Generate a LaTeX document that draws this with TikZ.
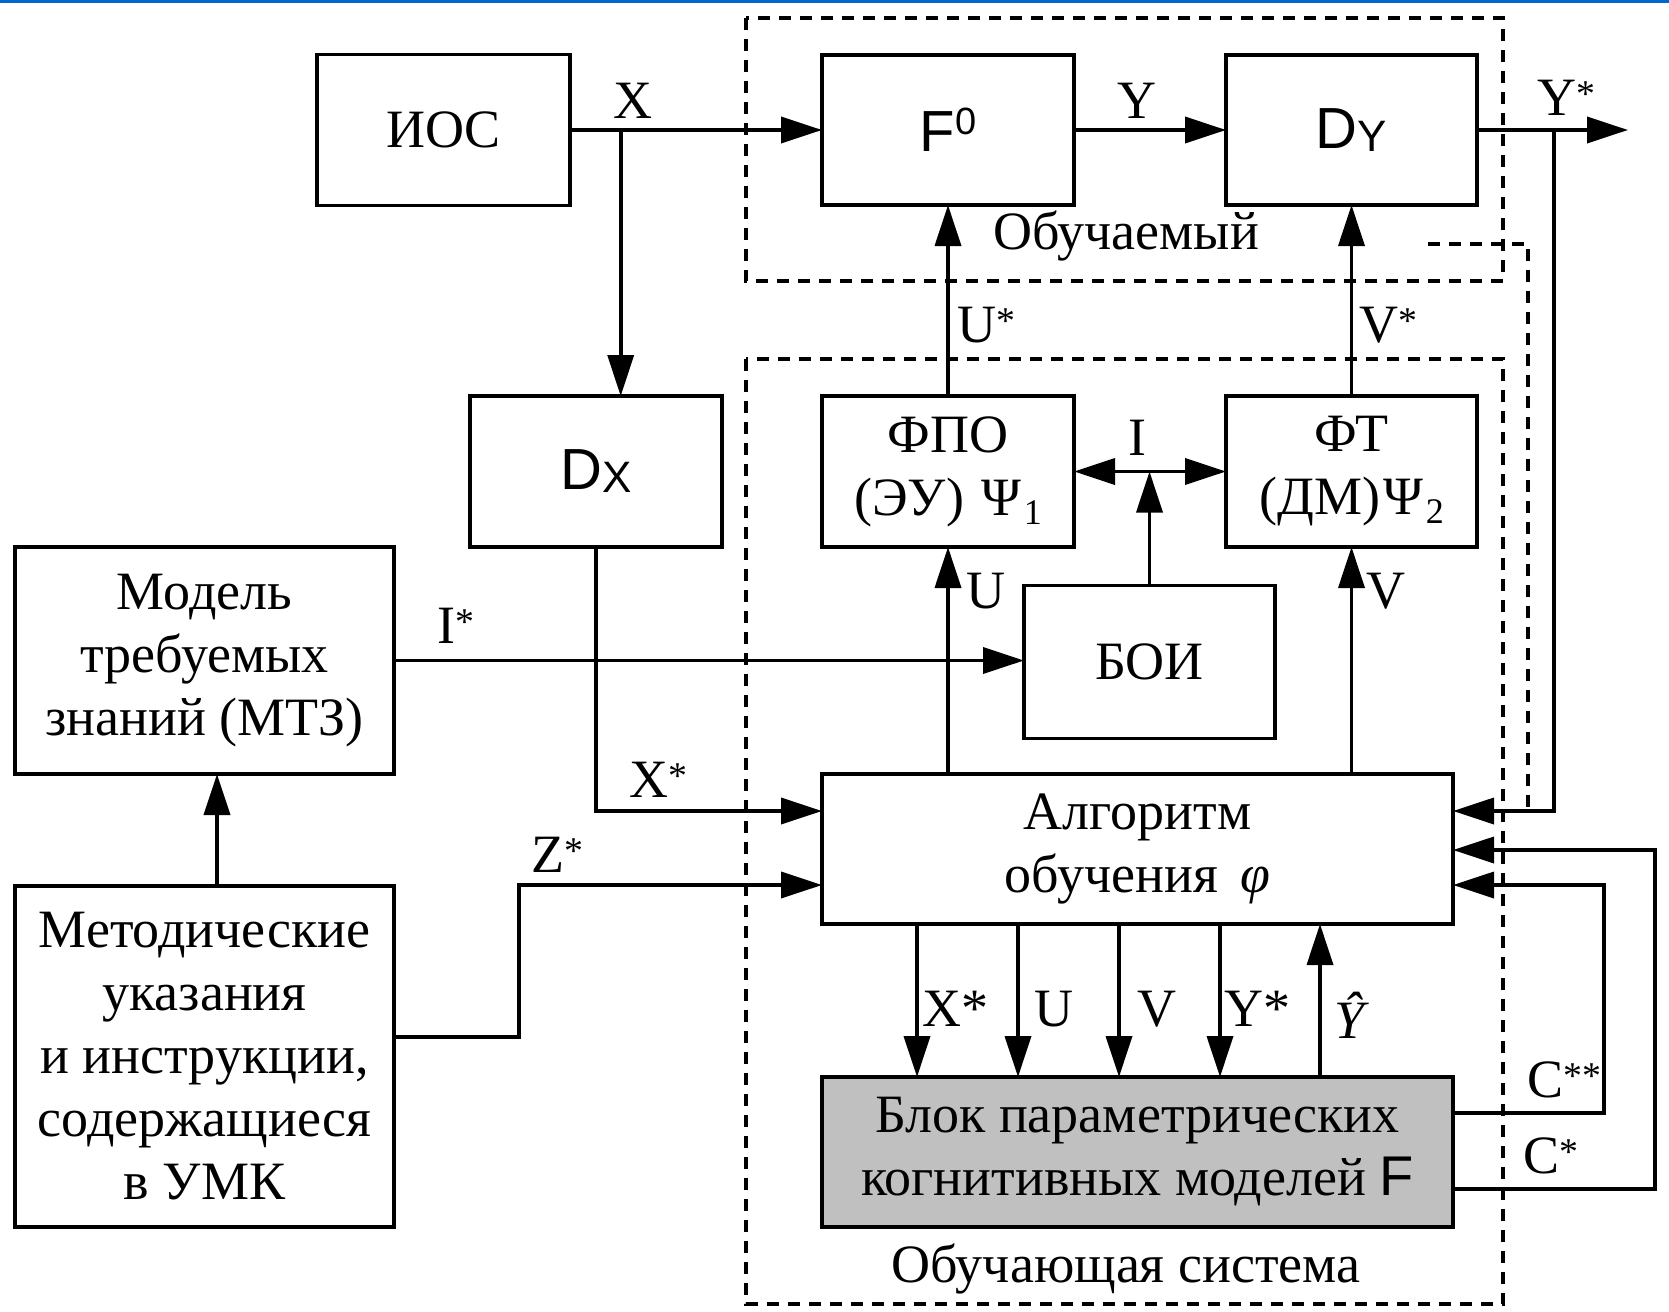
\documentclass[tikz,border=0pt]{standalone}
\usepackage{fontspec}
\setmainfont{Liberation Serif}
\newfontfamily\sansf{Liberation Sans}
\usetikzlibrary{arrows.meta}
\definecolor{barblue}{RGB}{0,102,204}
\definecolor{blockgray}{RGB}{192,192,192}
\begin{document}
\begin{tikzpicture}[x=1pt,y=-1pt,
  every node/.style={inner sep=0pt, outer sep=0pt},
  box/.style={draw, line width=3.2pt, align=center, font=\fontsize{54}{63}\selectfont},
  lbl/.style={font=\fontsize{54}{63}\selectfont},
  arr/.style={line width=3.6pt, -{Triangle[length=41pt,width=26pt]}},
  dbl/.style={line width=3.6pt, {Triangle[length=41pt,width=26pt]}-{Triangle[length=41pt,width=26pt]}},
  dashbox/.style={line width=3.2pt, dash pattern=on 12pt off 9pt},
]
\useasboundingbox (0,0) rectangle (1669,1311);
\fill[barblue] (0,0) rectangle (1669,3.5);

% dashed frames
\draw[dashbox] (746,18) rectangle (1503,281);
\draw[dashbox] (746,359) rectangle (1503,1304);

% boxes
\node[box, minimum width=253pt, minimum height=151pt] (ios) at (443.5,130) {ИОС};
\node[box, minimum width=252pt, minimum height=150pt] (f0) at (948,130)
  {{\sansf\fontsize{58}{60}\selectfont F\raisebox{17pt}{\fontsize{38}{38}\selectfont 0}}};
\node[box, minimum width=251pt, minimum height=150pt] (dy) at (1351.5,130)
  {{\sansf\fontsize{58}{60}\selectfont D\raisebox{-3pt}{\fontsize{44}{44}\selectfont Y}}};
\node[box, minimum width=252pt, minimum height=151pt] (dx) at (596,471.5)
  {{\sansf\fontsize{58}{60}\selectfont D\raisebox{-3pt}{\fontsize{44}{44}\selectfont X}}};
\node[box, minimum width=252pt, minimum height=151pt] (fpo) at (948,471.5)
  {ФПО\\(ЭУ)\hspace{18pt}Ψ\hspace{2pt}\raisebox{-9pt}{\fontsize{36}{36}\selectfont 1}};
\node[box, minimum width=251pt, minimum height=151pt] (ft) at (1351.5,471.5)
  {ФТ\\(ДМ)\hspace{4pt}Ψ\hspace{2pt}\raisebox{-9pt}{\fontsize{36}{36}\selectfont 2}};
\node[box, minimum width=251pt, minimum height=153pt] (boi) at (1149.5,662) {БОИ};
\node[box, minimum width=379pt, minimum height=227pt] (mtz) at (204.5,660.5)
  {Модель\\требуемых\\знаний (МТЗ)};
\node[box, minimum width=631pt, minimum height=150pt] (alg) at (1137.5,849)
  {Алгоритм\\обучения\hspace{22pt}{\itshape φ}};
\node[box, minimum width=379pt, minimum height=341pt] (met) at (204.5,1056.5)
  {Методические\\указания\\и инструкции,\\содержащиеся\\в УМК};
\node[box, fill=blockgray, minimum width=631pt, minimum height=150pt] (blk) at (1137.5,1152)
  {Блок параметрических\\когнитивных моделей {\sansf\fontsize{56}{63}\selectfont F}};

% connectors
\coordinate (xb) at (620.7,130);
\coordinate (yout) at (1628,130);
\coordinate (yb) at (1554,130);
\draw[arr] (ios.east) -- (f0.west);
\draw[arr] (xb) -- (xb |- dx.north);
\draw[arr] (f0.east) -- (dy.west);
\draw[arr] (dy.east) -- (yout);
\draw[arr] (yb) |- ([yshift=38pt]alg.east);

\coordinate (dsa) at (1428,244);
\coordinate (dsb) at (1528,244);
\coordinate (dsc) at (1528,811);
\draw[dashbox] (dsa) -- (dsb) -- (dsc);

\draw[arr] (fpo |- alg.north) -- (fpo.south);
\draw[arr] (fpo.north) -- (f0.south);
\draw[arr] (ft |- alg.north) -- (ft.south);
\draw[arr] (ft.north) -- (dy.south);
\draw[dbl] (fpo.east) -- (ft.west);
\draw[arr] (boi.north) -- (boi.north |- fpo.east);
\draw[arr] (mtz.east) -- (mtz.east -| boi.west);
\draw[arr] (dx.south) |- ([yshift=38pt]alg.west);
\draw[arr] ([yshift=19.5pt]met.east) -- ++(125,0) |- ([yshift=-36pt]alg.west);
\draw[arr] ([xshift=12.5pt]met.north) -- ([xshift=12.5pt]mtz.south);
\foreach \d in {-220.5,-119.5,-18.5,82.5}
  \draw[arr] ([xshift=\d pt]alg.south) -- ([xshift=\d pt]blk.north);
\draw[arr] ([xshift=182.5pt]blk.north) -- ([xshift=182.5pt]alg.south);
\draw[arr] ([yshift=39pt]blk.east) -- ++(151,0) |- ([yshift=-36pt]alg.east);
\draw[arr] ([yshift=-37pt]blk.east) -- ++(202,0) |- ([yshift=-1pt]alg.east);

% labels
\node[lbl] (lx) at (633,101) {X};
\node[lbl] (ly) at (1137,101) {Y};
\node[lbl] (lys) at (1567,98) {Y\textsuperscript{*}};
\node[lbl] (lob) at (1126,236) {Обучаемый};
\node[lbl] (lus) at (987,325) {U\textsuperscript{*}};
\node[lbl] (lvs) at (1389,325) {V\textsuperscript{*}};
\node[lbl] (li) at (1137,438) {I};
\node[lbl] (lu) at (986,591) {U};
\node[lbl] (lv) at (1386,591) {V};
\node[lbl] (lis) at (456,626) {I\textsuperscript{*}};
\node[lbl] (lxs) at (659,780) {X\textsuperscript{*}};
\node[lbl] (lzs) at (558,855) {Z\textsuperscript{*}};
\node[lbl] (bx) at (955,1009) {X*};
\node[lbl] (bu) at (1054,1009) {U};
\node[lbl] (bv) at (1157,1009) {V};
\node[lbl] (by) at (1257,1009) {Y*};
\node[lbl] (byh) at (1349,1015) {\itshape Ŷ};
\node[lbl] (lcc) at (1565,1080) {C\textsuperscript{**}};
\node[lbl] (lc) at (1551,1156) {C\textsuperscript{*}};
\node[lbl] (los) at (1126,1269) {Обучающая система};
\end{tikzpicture}
\end{document}
